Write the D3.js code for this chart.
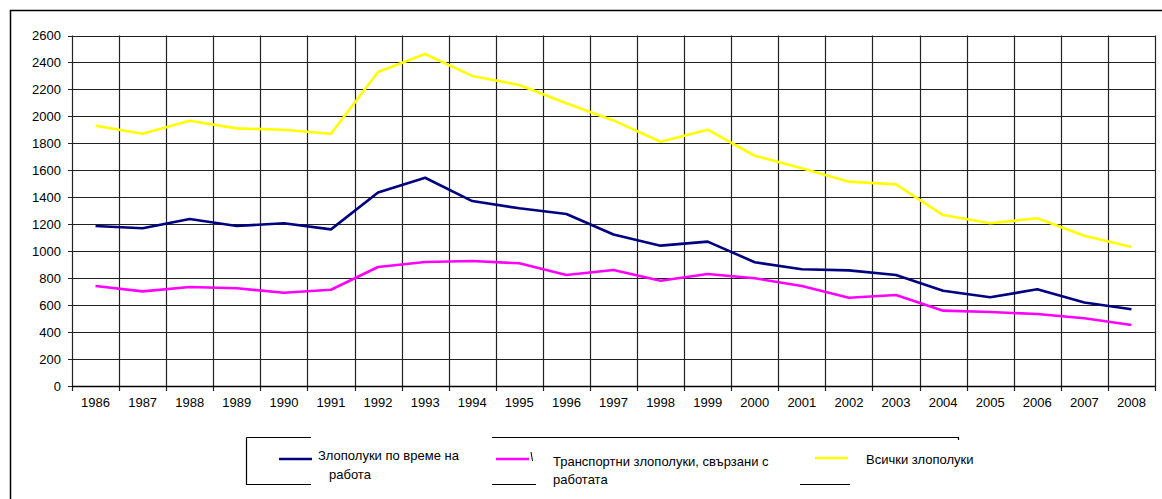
<!DOCTYPE html>
<html>
<head>
<meta charset="utf-8">
<script src="https://cdn.jsdelivr.net/npm/d3@7"></script>
<style>
    body { margin: 0; background: #fff; }
    svg { display: block; font-family: "Liberation Sans", Arial, sans-serif; }
    .legend text { font-family: "Liberation Sans Narrow", "Liberation Sans", Arial, sans-serif; }
</style>
</head>
<body>
<svg id="chart" width="1162" height="499"></svg>
<script>
const years = d3.range(1986, 2009).map(String);

// Злополуки по време на работа
const workAccidents = [1187, 1170, 1239, 1187, 1207, 1162, 1436, 1545, 1372, 1318, 1276, 1124,
    1041, 1071, 918, 866, 858, 823, 707, 658, 717, 620, 569];
// Транспортни злополуки, свързани с работата
const transportAccidents = [742, 702, 734, 725, 692, 714, 883, 920, 927, 910, 823, 860,
    781, 831, 799, 742, 655, 675, 559, 549, 534, 502, 453];
// Всички злополуки
const allAccidents = [1931, 1871, 1968, 1911, 1901, 1871, 2329, 2463, 2300, 2233, 2097, 1970,
    1812, 1901, 1708, 1615, 1516, 1496, 1268, 1207, 1244, 1115, 1031];

const yTicks = d3.range(0, 2601, 200);

const series = [
    {name: 'Злополуки по време на работа', values: workAccidents, color: '#000080'},
    {name: 'Транспортни злополуки, свързани с работата', values: transportAccidents, color: '#ff00ff'},
    {name: 'Всички злополуки', values: allAccidents, color: '#ffff00'}
];

const svg = d3.select('#chart');

// outer frame (runs off the right and bottom edges)
svg.append('rect')
    .attr('x', 10.5).attr('y', 10.5)
    .attr('width', 1170).attr('height', 510)
    .attr('fill', 'none')
    .attr('stroke', '#000')
    .attr('stroke-width', 1.5);

const plotLeft = 72, plotRight = 1155, plotTop = 35.5, plotBottom = 386;

const x = d3.scaleBand()
    .domain(years)
    .range([plotLeft, plotRight])
    .paddingInner(0)
    .paddingOuter(0);

const y = d3.scaleLinear()
    .domain([0, 2600])
    .range([plotBottom, plotTop]);

const grid = svg.append('g').attr('class', 'grid');

// horizontal grid lines
grid.selectAll('line.h')
    .data(yTicks)
    .enter()
    .append('line')
    .attr('class', 'h')
    .attr('x1', plotLeft - 4)
    .attr('x2', plotRight)
    .attr('y1', (d) => Math.round(y(d)) + 0.5)
    .attr('y2', (d) => Math.round(y(d)) + 0.5)
    .attr('stroke', '#222')
    .attr('stroke-width', 1.2);

// vertical grid lines at category boundaries
const bounds = years.map((d) => x(d)).concat([plotRight]);
grid.selectAll('line.v')
    .data(bounds)
    .enter()
    .append('line')
    .attr('class', 'v')
    .attr('x1', (d) => Math.round(d) + 0.5)
    .attr('x2', (d) => Math.round(d) + 0.5)
    .attr('y1', y(2600))
    .attr('y2', plotBottom + 5)
    .attr('stroke', '#222')
    .attr('stroke-width', 1.2);

// axes (labels only, grid does the ticks)
const yAxis = svg.append('g')
    .attr('transform', `translate(${plotLeft - 4},0)`)
    .call(d3.axisLeft(y).tickValues(yTicks).tickFormat(d3.format('d')).tickSize(0).tickPadding(7));
const xAxis = svg.append('g')
    .attr('transform', `translate(0,${plotBottom})`)
    .call(d3.axisBottom(x).tickSize(0).tickPadding(12));
[yAxis, xAxis].forEach((a) => {
    a.select('.domain').remove();
    a.selectAll('text')
        .attr('font-family', '"Liberation Sans", Arial, sans-serif')
        .attr('font-size', 13)
        .attr('fill', '#000');
});
svg.append('line')
    .attr('x1', plotLeft).attr('x2', plotRight)
    .attr('y1', plotBottom + 0.5).attr('y2', plotBottom + 0.5)
    .attr('stroke', '#000').attr('stroke-width', 1.5);

// series lines
const line = d3.line()
    .x((d, i) => x(years[i]) + x.bandwidth() / 2)
    .y((d) => y(d));

svg.append('g')
    .selectAll('path')
    .data(series.slice().reverse())
    .enter()
    .append('path')
    .attr('d', (d) => line(d.values))
    .attr('fill', 'none')
    .attr('stroke', (d) => d.color)
    .attr('stroke-width', 2.6)
    .attr('stroke-linejoin', 'round');

// legend
const legend = svg.append('g').attr('class', 'legend');
legend.append('path')
    .attr('d', 'M246.5,437.5 L958.5,437.5 L958.5,440 M246.5,437.5 L246.5,484.5 L958,484.5')
    .attr('fill', 'none')
    .attr('stroke', '#000')
    .attr('stroke-width', 1.2);

// text boxes overlapping the legend frame
const boxes = [
    {x: 311, y: 430, w: 181, h: 62},
    {x: 536, y: 441, w: 264, h: 50},
    {x: 850, y: 441, w: 140, h: 50}
];
legend.selectAll('rect.box')
    .data(boxes)
    .enter()
    .append('rect')
    .attr('class', 'box')
    .attr('x', (d) => d.x).attr('y', (d) => d.y)
    .attr('width', (d) => d.w).attr('height', (d) => d.h)
    .attr('fill', '#fff');

const keys = [
    {x1: 279, y: 459, lines: [{t: 'Злополуки по време на', x: 318, y: 455}, {t: 'работа', x: 329, y: 474}]},
    {x1: 496, y: 459, lines: [{t: 'Транспортни злополуки, свързани с', x: 553, y: 461}, {t: 'работата', x: 553, y: 479}]},
    {x1: 815, y: 458, lines: [{t: 'Всички злополуки', x: 866, y: 459}]}
];
keys.forEach((k, i) => {
    legend.append('line')
        .attr('x1', k.x1).attr('x2', k.x1 + 33)
        .attr('y1', k.y).attr('y2', k.y)
        .attr('stroke', series[i].color)
        .attr('stroke-width', 2.6);
    k.lines.forEach((l) => {
        legend.append('text')
            .attr('x', l.x).attr('y', l.y)
            .attr('dy', '0.35em')
            .attr('font-size', 13)
            .attr('fill', '#000')
            .text(l.t);
    });
});
// clipped glyph left of the second text box
legend.append('line')
    .attr('x1', 531).attr('y1', 452)
    .attr('x2', 532.5).attr('y2', 461)
    .attr('stroke', '#000')
    .attr('stroke-width', 1);
</script>
</body>
</html>
